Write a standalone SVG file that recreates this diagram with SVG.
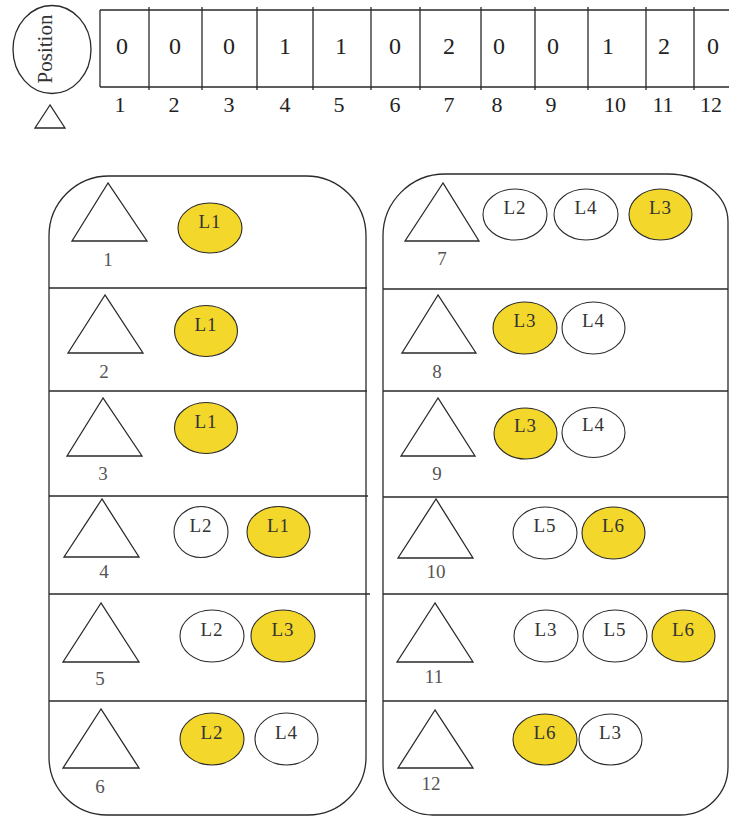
<svg xmlns="http://www.w3.org/2000/svg" width="729" height="816" viewBox="0 0 729 816">
<style>
.ln{stroke:#2a2a2a;stroke-width:1.3;fill:none}
.tri{stroke:#2a2a2a;stroke-width:1.3;fill:#fff}
.pan{stroke:#2a2a2a;stroke-width:1.3;fill:#fff}
.ew{stroke:#2a2a2a;stroke-width:1.1;fill:#fff}
.ey{stroke:#2a2a2a;stroke-width:1.1;fill:#f4d72b}
.val{font-family:"Liberation Serif",serif;font-size:24px;fill:#222;text-anchor:middle}
.idx{font-family:"Liberation Serif",serif;font-size:22px;fill:#222;text-anchor:middle}
.num{font-family:"Liberation Serif",serif;font-size:19px;fill:#555;text-anchor:middle}
.lab{font-family:"Liberation Serif",serif;font-size:19px;fill:#333;text-anchor:middle;letter-spacing:1px}
.pos{font-family:"Liberation Serif",serif;font-size:21px;fill:#333;text-anchor:middle}
</style>
<rect width="729" height="816" fill="#fff"/>

<g id="position-key">
<ellipse cx="52" cy="49.5" rx="39" ry="44" class="ln"/>
<text class="pos" transform="translate(52,49) rotate(-90)">Position</text>
<polygon class="tri" points="50,105 35,128 65,128"/>
</g>

<g id="position-array">
<path class="ln" d="M100,10 H729 M100,87 H729 M100,10 V87"/>
<path class="ln" d="M149,7 V90 M202,7 V90 M257,7 V90 M313,7 V90 M371,7 V90 M420,7 V90 M481,7 V90 M535,7 V90 M588,7 V90 M646,7 V90 M694,7 V90"/>
<text class="val" x="122" y="54">0</text>
<text class="val" x="175" y="54">0</text>
<text class="val" x="229" y="54">0</text>
<text class="val" x="285" y="54">1</text>
<text class="val" x="341" y="54">1</text>
<text class="val" x="395" y="54">0</text>
<text class="val" x="449" y="54">2</text>
<text class="val" x="499" y="54">0</text>
<text class="val" x="553" y="54">0</text>
<text class="val" x="608" y="54">1</text>
<text class="val" x="664" y="54">2</text>
<text class="val" x="713" y="54">0</text>
<text class="idx" x="120" y="112">1</text>
<text class="idx" x="174" y="112">2</text>
<text class="idx" x="229" y="112">3</text>
<text class="idx" x="285" y="112">4</text>
<text class="idx" x="339" y="112">5</text>
<text class="idx" x="395" y="112">6</text>
<text class="idx" x="449" y="112">7</text>
<text class="idx" x="497" y="112">8</text>
<text class="idx" x="551" y="112">9</text>
<text class="idx" x="615" y="112">10</text>
<text class="idx" x="663" y="112">11</text>
<text class="idx" x="711" y="112">12</text>
</g>

<g id="panel-left">
<path class="pan" d="M109,176 H306 A60,60 0 0 1 366,236 V757 A58,58 0 0 1 308,815 H107 A58,58 0 0 1 49,757 V236 A60,60 0 0 1 109,176 Z"/>
<path class="ln" d="M49,288 H367 M49,391 H367 M49,496 H368 M49,594 H370 M49,701 H367"/>
</g>

<g id="panel-right">
<path class="pan" d="M445,174 H668 A60,48 0 0 1 728,222 V767 A48,48 0 0 1 680,815 H433 A50,50 0 0 1 383,765 V236 A62,62 0 0 1 445,174 Z"/>
<path class="ln" d="M383,289 H728 M383,391 H728 M383,497 H728 M383,594 H728 M383,701 H728"/>
</g>

<g id="row-1">
<polygon class="tri" points="108,183 72,241 147,241"/>
<text class="num" x="108" y="266">1</text>
<ellipse class="ey" cx="210" cy="228" rx="32" ry="25"/><text class="lab" x="210" y="228">L1</text>
</g>
<g id="row-2">
<polygon class="tri" points="105,295 68,353 143,353"/>
<text class="num" x="104" y="378">2</text>
<ellipse class="ey" cx="206" cy="331" rx="31.5" ry="25.5"/><text class="lab" x="206" y="331">L1</text>
</g>
<g id="row-3">
<polygon class="tri" points="103,398 67,456 142,456"/>
<text class="num" x="103" y="480">3</text>
<ellipse class="ey" cx="206" cy="428" rx="31.5" ry="25.5"/><text class="lab" x="206" y="428">L1</text>
</g>
<g id="row-4">
<polygon class="tri" points="102,499 64,557 139,557"/>
<text class="num" x="104" y="578">4</text>
<ellipse class="ew" cx="201" cy="532" rx="27" ry="25.5"/><text class="lab" x="201" y="532">L2</text>
<ellipse class="ey" cx="278.5" cy="532" rx="31.5" ry="25.5"/><text class="lab" x="278.5" y="532">L1</text>
</g>
<g id="row-5">
<polygon class="tri" points="101,603 63,662 139,662"/>
<text class="num" x="100" y="685">5</text>
<ellipse class="ew" cx="212" cy="636" rx="32" ry="26"/><text class="lab" x="212" y="636">L2</text>
<ellipse class="ey" cx="283" cy="636" rx="32" ry="26"/><text class="lab" x="283" y="636">L3</text>
</g>
<g id="row-6">
<polygon class="tri" points="101,709 63,768 139,768"/>
<text class="num" x="100" y="793">6</text>
<ellipse class="ey" cx="212" cy="739" rx="32" ry="26"/><text class="lab" x="212" y="739">L2</text>
<ellipse class="ew" cx="286.5" cy="739" rx="31.5" ry="26"/><text class="lab" x="286.5" y="739">L4</text>
</g>

<g id="row-7">
<polygon class="tri" points="443,183 405,241 479,241"/>
<text class="num" x="442" y="265">7</text>
<ellipse class="ew" cx="515" cy="214.5" rx="32" ry="25.5"/><text class="lab" x="515" y="214">L2</text>
<ellipse class="ew" cx="586" cy="214.5" rx="32" ry="25.5"/><text class="lab" x="586" y="214">L4</text>
<ellipse class="ey" cx="660.5" cy="214.5" rx="31.5" ry="25.5"/><text class="lab" x="660.5" y="214">L3</text>
</g>
<g id="row-8">
<polygon class="tri" points="438,295 402,353 476,353"/>
<text class="num" x="437" y="378">8</text>
<ellipse class="ey" cx="525" cy="328" rx="32" ry="26"/><text class="lab" x="525" y="327">L3</text>
<ellipse class="ew" cx="593.5" cy="328" rx="31.5" ry="26"/><text class="lab" x="593.5" y="327">L4</text>
</g>
<g id="row-9">
<polygon class="tri" points="438,398 401,456 475,456"/>
<text class="num" x="437" y="480">9</text>
<ellipse class="ey" cx="525.5" cy="433.5" rx="31.5" ry="25.5"/><text class="lab" x="525.5" y="432">L3</text>
<ellipse class="ew" cx="593.5" cy="432.5" rx="31.5" ry="25"/><text class="lab" x="593.5" y="431">L4</text>
</g>
<g id="row-10">
<polygon class="tri" points="436,499 398,558 473,558"/>
<text class="num" x="436" y="578">10</text>
<ellipse class="ew" cx="545" cy="533" rx="32" ry="26"/><text class="lab" x="545" y="532">L5</text>
<ellipse class="ey" cx="613.5" cy="533" rx="31.5" ry="26"/><text class="lab" x="613.5" y="532">L6</text>
</g>
<g id="row-11">
<polygon class="tri" points="435,603 397,662 473,662"/>
<text class="num" x="434" y="683">11</text>
<ellipse class="ew" cx="546" cy="636" rx="32" ry="26"/><text class="lab" x="546" y="636">L3</text>
<ellipse class="ew" cx="615" cy="636" rx="32" ry="26"/><text class="lab" x="615" y="636">L5</text>
<ellipse class="ey" cx="683.5" cy="636" rx="31.5" ry="26"/><text class="lab" x="683.5" y="636">L6</text>
</g>
<g id="row-12">
<polygon class="tri" points="435,710 398,768 473,768"/>
<text class="num" x="431" y="790">12</text>
<ellipse class="ey" cx="545" cy="739.5" rx="32" ry="25.5"/><text class="lab" x="545" y="739">L6</text>
<ellipse class="ew" cx="610.5" cy="739.5" rx="31.5" ry="25.5"/><text class="lab" x="610.5" y="739">L3</text>
</g>

<g id="connectors"/>
</svg>
